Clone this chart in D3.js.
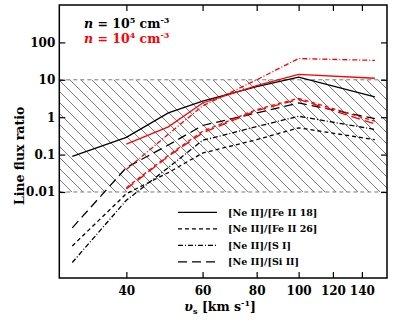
<!DOCTYPE html>
<html lang="en">
<head>
  <meta charset="UTF-8">
  <title>Line flux ratio</title>
  <script src="https://d3js.org/d3.v7.min.js"></script>
  <style>
    body { margin: 0; background: #fff; }
    svg text { font-family: "DejaVu Serif", serif; font-weight: bold; }
  </style>
</head>
<body>
  <div id="chart"></div>

  <script>
    // shock velocities (km/s) for the two densities
    const velHigh = [30, 40, 50, 60, 80, 100, 150];   // n = 1e5
    const velLow  = [40, 50, 60, 80, 100, 150];       // n = 1e4

    // n = 1e5 cm^-3 (black)
    const feII18High = [0.089, 0.29, 1.3, 2.7, 6.6, 11.8, 3.5];
    const feII26High = [0.00036, 0.009, 0.033, 0.11, 0.25, 0.52, 0.25];
    const sIHigh     = [0.00013, 0.006, 0.045, 0.24, 0.56, 1.06, 0.47];
    const siIIHigh   = [0.0011, 0.045, 0.18, 0.6, 1.3, 2.4, 0.92];

    // n = 1e4 cm^-3 (red)
    const feII18Low = [0.19, 0.55, 2.4, 7.0, 14, 11];
    const feII26Low = [0.013, 0.095, 0.42, 1.6, 3.2, 0.78];
    const sILow     = [0.04, 0.35, 2.0, 10, 37, 33];
    const siIILow   = [0.012, 0.09, 0.38, 1.5, 3.0, 0.66];

    const ratioNames = ["[Ne II]/[Fe II 18]", "[Ne II]/[Fe II 26]", "[Ne II]/[S I]", "[Ne II]/[Si II]"];
    const xTicks = [40, 60, 80, 100, 120, 140];
    const yTicks = [0.01, 0.1, 1, 10, 100];
    const yTickLabels = ["0.01", "0.1", "1", "10", "100"];
    const band = [0.01, 10];   // hatched range

    // line styles per ratio (same order as ratioNames)
    const dashes = [null, "4,3", "5,2,1,2", "9,5"];

    const series = [
      { x: velHigh, y: feII18High, k: 0, color: "#000" },
      { x: velHigh, y: feII26High, k: 1, color: "#000" },
      { x: velHigh, y: sIHigh, k: 2, color: "#000" },
      { x: velHigh, y: siIIHigh, k: 3, color: "#000" },
      { x: velLow, y: feII18Low, k: 0, color: "#ff0000" },
      { x: velLow, y: feII26Low, k: 1, color: "#ff0000" },
      { x: velLow, y: sILow, k: 2, color: "#ff0000" },
      { x: velLow, y: siIILow, k: 3, color: "#ff0000" }
    ];

    const ancho = 395, alto = 328;
    const margen = { top: 5, right: 8, bottom: 50, left: 59.3 };
    const w = ancho - margen.left - margen.right;
    const h = alto - margen.top - margen.bottom;

    const svg = d3.select("#chart").append("svg")
      .attr("width", ancho).attr("height", alto);

    const g = svg.append("g")
      .attr("transform", `translate(${margen.left},${margen.top})`);

    const x = d3.scaleLog().domain([28, 160]).range([0, w]);
    const y = d3.scaleLog().domain([Math.pow(10, -4.3), 1000]).range([h, 0]);

    g.append("clipPath").attr("id", "clip")
      .append("rect").attr("width", w).attr("height", h);

    // hatched region
    const yTop = y(band[1]), yBot = y(band[0]);
    const bh = yBot - yTop;
    const hatch = g.append("g").attr("clip-path", "url(#clip)");
    hatch.selectAll("line.hatch")
      .data(d3.range(1.7 - bh - 11 * 12, w + 11, 11))
      .enter().append("line")
      .attr("x1", d => d).attr("y1", yTop)
      .attr("x2", d => d + bh).attr("y2", yBot)
      .attr("stroke", "#7a7a7a").attr("stroke-width", 1);

    g.selectAll("line.band")
      .data(band)
      .enter().append("line")
      .attr("x1", 0).attr("x2", w)
      .attr("y1", d => y(d)).attr("y2", d => y(d))
      .attr("stroke", "#7a7a7a").attr("stroke-width", 1)
      .attr("stroke-dasharray", "4,3");

    // curves
    const linea = d3.line()
      .x(d => x(d[0]))
      .y(d => y(d[1]));

    g.append("g").attr("clip-path", "url(#clip)")
      .selectAll("path.serie")
      .data(series)
      .enter().append("path")
      .attr("d", s => linea(s.x.map((v, i) => [v, s.y[i]])))
      .attr("fill", "none")
      .attr("stroke", s => s.color)
      .attr("stroke-width", 1.3)
      .attr("stroke-dasharray", s => dashes[s.k]);

    // axes (ticks point inward)
    const ejeX = g.append("g").attr("transform", `translate(0,${h})`)
      .call(d3.axisBottom(x).tickValues(xTicks).tickFormat(d3.format("d"))
        .tickSize(-6).tickSizeOuter(0).tickPadding(8.5));
    g.append("g")
      .call(d3.axisTop(x).tickValues(xTicks).tickFormat("").tickSize(-6).tickSizeOuter(0));
    const ejeY = g.append("g")
      .call(d3.axisLeft(y).tickValues(yTicks).tickFormat((d, i) => yTickLabels[i])
        .tickSize(-6).tickSizeOuter(0).tickPadding(4));
    g.append("g").attr("transform", `translate(${w},0)`)
      .call(d3.axisRight(y).tickValues(yTicks).tickFormat("").tickSize(-6).tickSizeOuter(0));

    g.selectAll(".domain").remove();
    g.selectAll(".tick line").attr("stroke", "#000").attr("stroke-width", 1.2);
    g.selectAll(".tick text").attr("font-size", 12).attr("fill", "#000")
      .style("font-family", "'DejaVu Serif', serif").style("font-weight", "bold");

    g.append("rect").attr("width", w).attr("height", h)
      .attr("fill", "none").attr("stroke", "#000").attr("stroke-width", 1.5);

    // axis titles
    const xt = svg.append("text")
      .attr("x", margen.left + w / 2 - 3).attr("y", 311)
      .attr("text-anchor", "middle").attr("font-size", 12.5);
    xt.append("tspan").attr("font-style", "italic").text("υ");
    xt.append("tspan").attr("font-size", 8).attr("dy", 3).text("s");
    xt.append("tspan").attr("dy", -3).text(" [km s");
    xt.append("tspan").attr("font-size", 8).attr("dy", -5).text("-1");
    xt.append("tspan").attr("dy", 5).text("]");

    svg.append("text")
      .attr("transform", `translate(24,${margen.top + y(Math.sqrt(band[0] * band[1])) + 20}) rotate(-90)`)
      .attr("text-anchor", "middle").attr("font-size", 12.5)
      .text("Line flux ratio");

    // density labels
    const dens = [["5", "#000"], ["4", "#ff0000"]];
    dens.forEach((d, i) => {
      const t = svg.append("text").attr("x", 84).attr("y", 28 + i * 14.5)
        .attr("font-size", 12.5).attr("fill", d[1]);
      t.append("tspan").attr("font-style", "italic").text("n");
      t.append("tspan").text(" = 10");
      t.append("tspan").attr("font-size", 8).attr("dy", -5).text(d[0]);
      t.append("tspan").attr("dy", 5).text(" cm");
      t.append("tspan").attr("font-size", 8).attr("dy", -5).text("-3");
    });

    // legend
    const leyenda = svg.append("g");
    ratioNames.forEach((name, i) => {
      const yy = 212.3 + i * 16.5;
      leyenda.append("line")
        .attr("x1", 178).attr("x2", 217).attr("y1", yy).attr("y2", yy)
        .attr("stroke", "#000").attr("stroke-width", 1.2)
        .attr("stroke-dasharray", dashes[i]);
      leyenda.append("text").attr("x", 228).attr("y", yy + 3.5)
        .attr("font-size", 9.5).text(name);
    });
  </script>
</body>
</html>
